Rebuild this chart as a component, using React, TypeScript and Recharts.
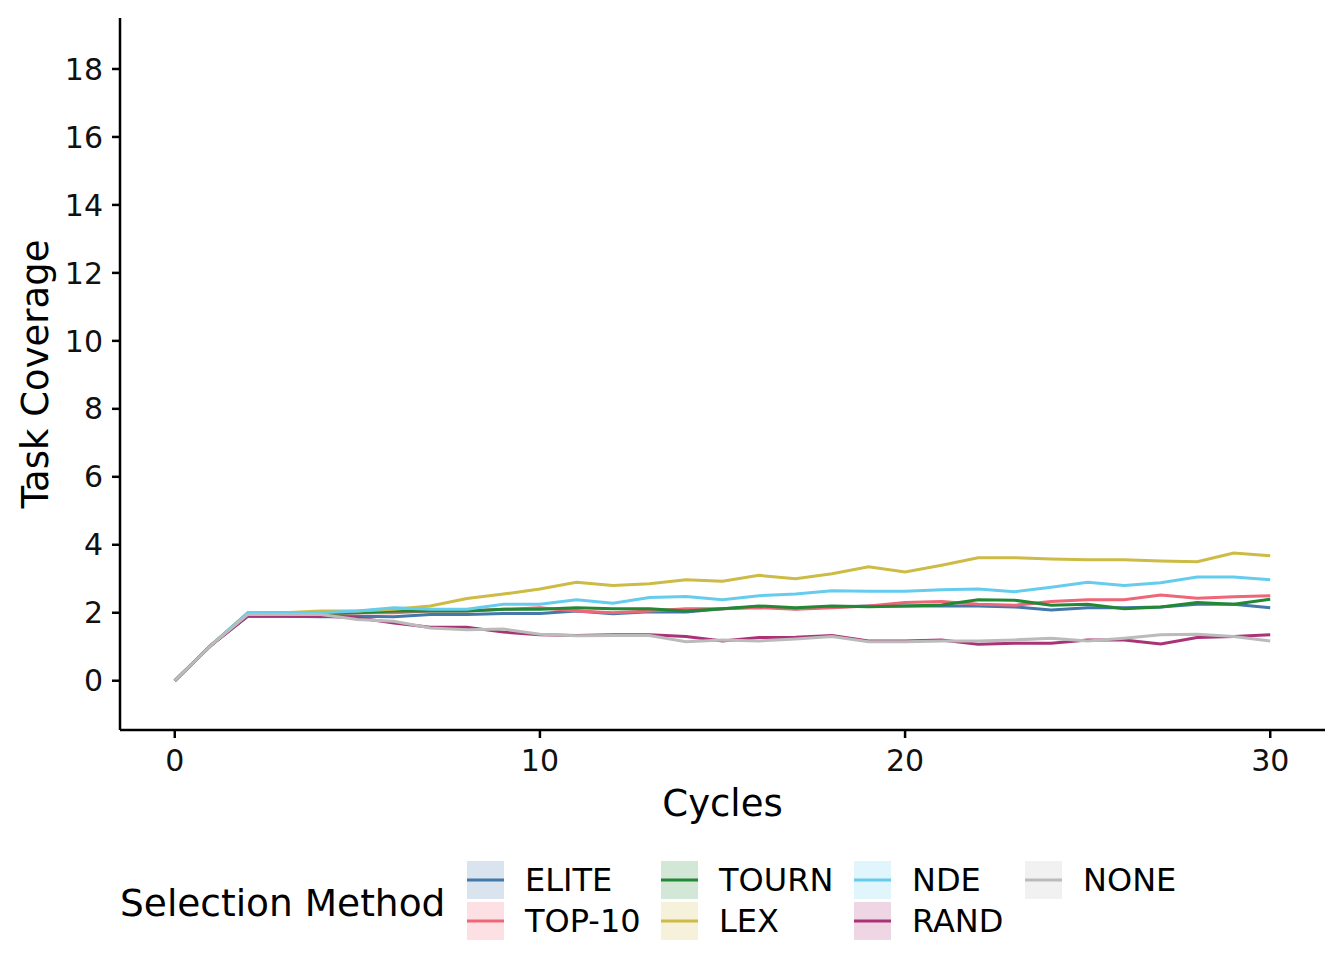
import React from "react";
import { LineChart, Line, XAxis, YAxis } from "recharts";

const cycles = [0, 1, 2, 3, 4, 5, 6, 7, 8, 9, 10, 11, 12, 13, 14, 15, 16, 17, 18, 19, 20, 21, 22, 23, 24, 25, 26, 27, 28, 29, 30];

const elite = [0, 1.05, 1.9, 1.9, 1.88, 1.9, 1.88, 1.95, 1.95, 1.98, 1.98, 2.05, 1.97, 2.03, 2.02, 2.12, 2.18, 2.12, 2.17, 2.2, 2.2, 2.2, 2.2, 2.17, 2.08, 2.15, 2.15, 2.17, 2.25, 2.25, 2.15];
const top10 = [0, 1.05, 1.95, 1.95, 1.95, 2.0, 2.0, 2.05, 2.05, 2.1, 2.15, 2.05, 2.0, 2.05, 2.12, 2.12, 2.15, 2.1, 2.15, 2.2, 2.3, 2.33, 2.25, 2.22, 2.33, 2.38, 2.38, 2.52, 2.43, 2.47, 2.5];
const tourn = [0, 1.05, 1.98, 2.0, 1.98, 2.0, 2.05, 2.05, 2.05, 2.1, 2.1, 2.15, 2.12, 2.12, 2.05, 2.12, 2.2, 2.15, 2.2, 2.18, 2.2, 2.23, 2.38, 2.37, 2.22, 2.25, 2.12, 2.17, 2.3, 2.25, 2.4];
const lex = [0, 1.05, 2.0, 2.0, 2.05, 2.05, 2.1, 2.2, 2.42, 2.55, 2.7, 2.9, 2.8, 2.85, 2.97, 2.93, 3.1, 3.0, 3.15, 3.35, 3.2, 3.4, 3.62, 3.62, 3.58, 3.56, 3.56, 3.52, 3.5, 3.76, 3.68];
const nde = [0, 1.05, 2.0, 2.0, 2.0, 2.05, 2.15, 2.1, 2.1, 2.25, 2.25, 2.38, 2.28, 2.45, 2.48, 2.38, 2.5, 2.55, 2.65, 2.63, 2.63, 2.68, 2.7, 2.62, 2.75, 2.9, 2.8, 2.88, 3.05, 3.05, 2.97];
const rand = [0, 1.05, 1.9, 1.9, 1.9, 1.85, 1.7, 1.57, 1.57, 1.43, 1.35, 1.33, 1.35, 1.35, 1.3, 1.17, 1.27, 1.28, 1.33, 1.17, 1.17, 1.2, 1.07, 1.1, 1.1, 1.2, 1.2, 1.08, 1.27, 1.3, 1.35];
const none = [0, 1.05, 1.95, 1.95, 1.95, 1.8, 1.75, 1.55, 1.5, 1.52, 1.37, 1.32, 1.33, 1.33, 1.15, 1.2, 1.17, 1.23, 1.3, 1.15, 1.15, 1.17, 1.17, 1.2, 1.25, 1.17, 1.25, 1.35, 1.37, 1.3, 1.17];

const methods = ["ELITE", "TOP-10", "TOURN", "LEX", "NDE", "RAND", "NONE"];
const colors = ["#4477AA", "#EE6677", "#228833", "#CCBB44", "#66CCEE", "#AA3377", "#BBBBBB"];
const seriesValues = [elite, top10, tourn, lex, nde, rand, none];

const xTicks = [0, 10, 20, 30];
const yTicks = [0, 2, 4, 6, 8, 10, 12, 14, 16, 18];

const data = cycles.map((c, i) => {
  const row: Record<string, number> = { cycle: c };
  methods.forEach((m, j) => {
    row[m] = seriesValues[j][i];
  });
  return row;
});

const FONT = "'DejaVu Sans', sans-serif";

// legend grid: column x positions (page coords)
const legendCols = [467, 661, 854, 1025];

const LegendBox: React.FC = () => (
  <div style={{ position: "absolute", left: 0, top: 853, width: 1328, height: 90, fontFamily: FONT }}>
    <div style={{ position: "absolute", left: 112, top: 22, fontSize: 37.5, lineHeight: "40px" }}>
      Selection Method
    </div>
    {methods.map((m, i) => {
      const col = Math.floor(i / 2);
      const row = i % 2;
      const left = legendCols[col] - 8;
      const top = row * 41;
      return (
        <div key={m} style={{ position: "absolute", left, top, height: 38, display: "flex", alignItems: "center" }}>
          <svg width={37} height={38}>
            <rect x={0} y={0} width={37} height={38} fill={colors[i]} fillOpacity={0.2} />
            <line x1={0} x2={37} y1={19} y2={19} stroke={colors[i]} strokeWidth={3} />
          </svg>
          <span style={{ marginLeft: 21, fontSize: 32, whiteSpace: "nowrap" }}>{m}</span>
        </div>
      );
    })}
  </div>
);

export default function App() {
  return (
    <div style={{ position: "relative", width: 1328, height: 944, fontFamily: FONT }}>
      <LineChart width={1328} height={832} data={data} margin={{ top: 10, right: 11, left: 0, bottom: 0 }}>
        <XAxis
          dataKey="cycle"
          type="number"
          domain={[-1.5, 31.5]}
          ticks={xTicks}
          height={110}
          tickSize={8}
          tickMargin={12}
          axisLine={{ stroke: "#000", strokeWidth: 2.5 }}
          tickLine={{ stroke: "#000", strokeWidth: 2.5 }}
          tick={{ fill: "#111", fontSize: 30, fontFamily: FONT }}
          label={{ value: "Cycles", position: "insideBottom", offset: 24, fill: "#000", fontSize: 37, fontFamily: FONT }}
        />
        <YAxis
          type="number"
          domain={[-1.45, 19.5]}
          ticks={yTicks}
          width={112}
          tickSize={8}
          tickMargin={9}
          axisLine={{ stroke: "#000", strokeWidth: 2.5 }}
          tickLine={{ stroke: "#000", strokeWidth: 2.5 }}
          tick={{ fill: "#111", fontSize: 30, fontFamily: FONT }}
          label={{
            value: "Task Coverage",
            angle: -90,
            position: "insideLeft",
            offset: 27,
            fill: "#000",
            fontSize: 37,
            fontFamily: FONT,
            style: { textAnchor: "middle" },
          }}
        />
        {methods.map((m, i) => (
          <Line
            key={m}
            type="linear"
            dataKey={m}
            stroke={colors[i]}
            strokeWidth={3}
            dot={false}
            isAnimationActive={false}
          />
        ))}
      </LineChart>
      <LegendBox />
    </div>
  );
}
